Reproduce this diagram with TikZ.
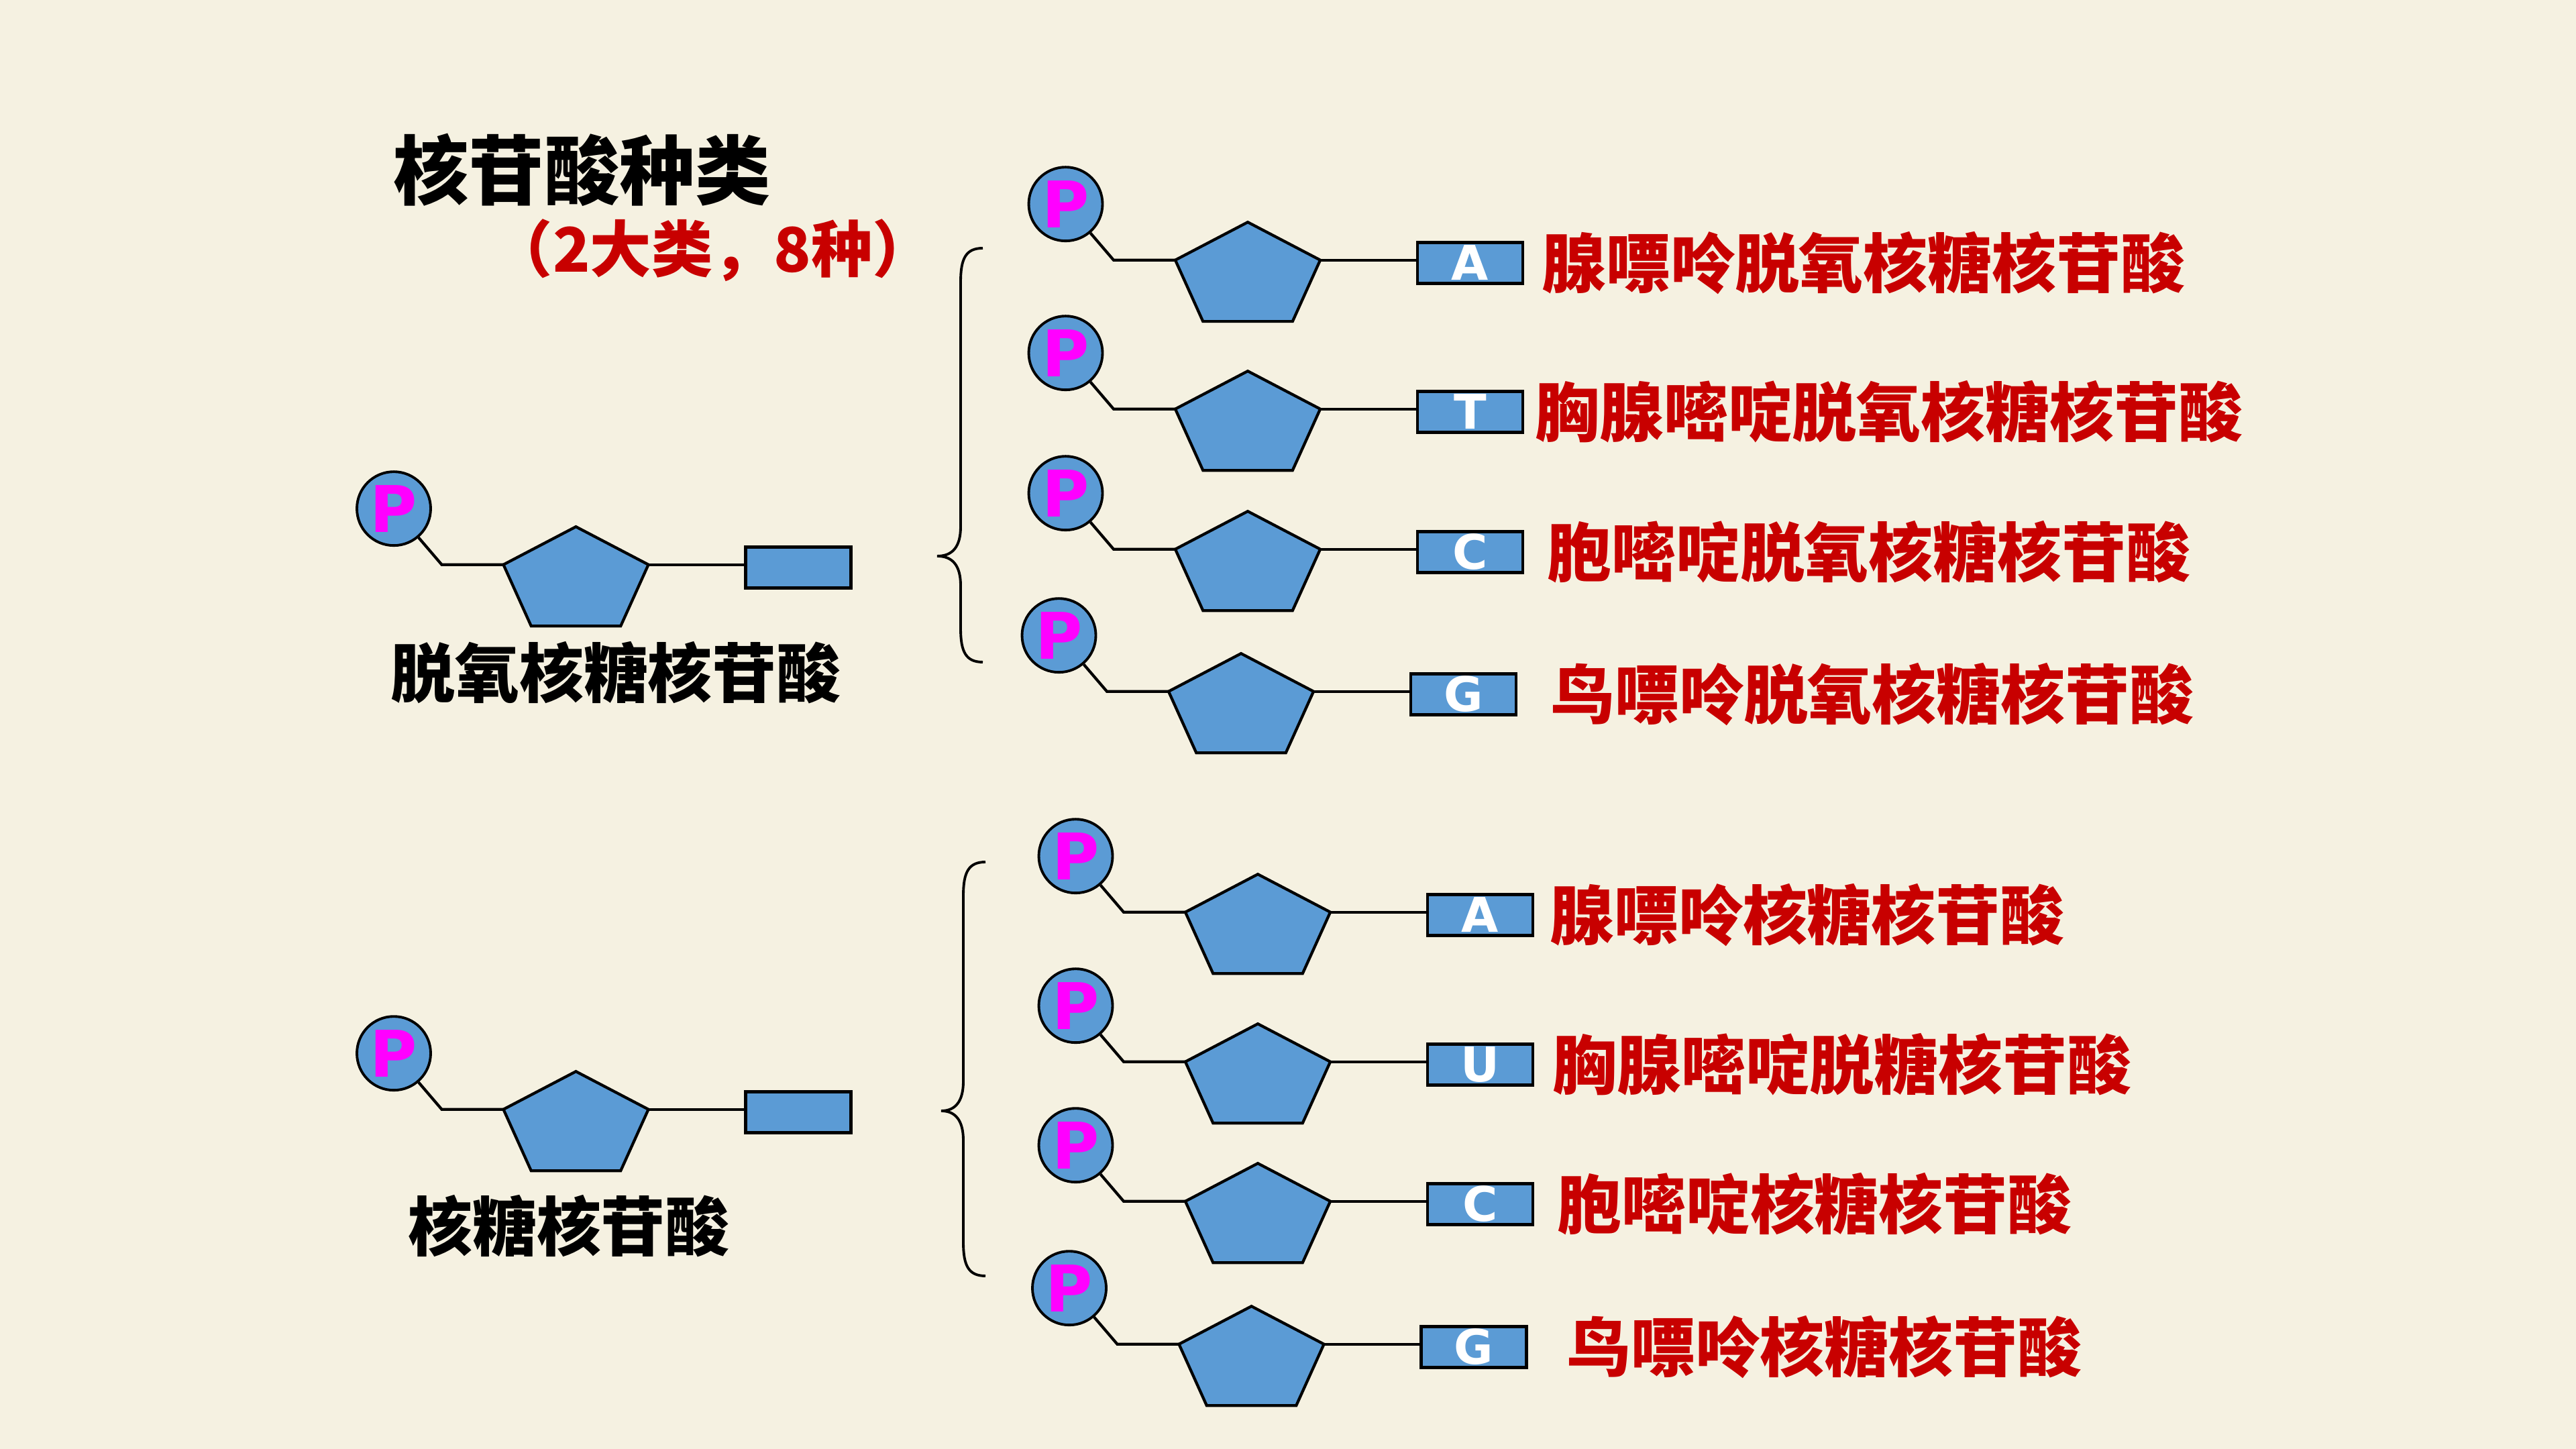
\documentclass[tikz,border=0pt]{standalone}
\usepackage{fontspec}
\newfontfamily\cjk{Noto Sans CJK SC}
\newfontfamily\letterfont{DejaVu Sans}
\usetikzlibrary{calc,positioning,shapes.geometric}
\definecolor{paper}{RGB}{245,241,225}
\definecolor{nblue}{RGB}{91,155,213}
\definecolor{nred}{RGB}{200,0,0}
\definecolor{pmag}{RGB}{255,0,255}
\tikzset{
	sugar/.style={regular polygon, regular polygon sides=5, minimum size=2.272cm, inner sep=0, outer sep=0, draw, fill=nblue, line width=1.2pt, yscale=0.72},
	phos/.style={circle, minimum size=1.1cm, inner sep=0, draw, fill=nblue, line width=1.1pt, text=pmag, font=\letterfont\bfseries\fontsize{27.3pt}{28pt}\selectfont},
	basebox/.style={rectangle, minimum width=1.57cm, minimum height=0.61cm, inner sep=0, draw, fill=nblue, line width=1.4pt, text=white, font=\letterfont\bfseries\fontsize{20.3pt}{21pt}\selectfont},
	bond/.style={line width=1.2pt},
	curly/.style={line width=1.1pt},
	lab/.style={inner sep=0, text=nred, font=\cjk\bfseries\fontsize{27.3pt}{30pt}\selectfont}
}
\def\nucl(#1)(#2)#3{%
	\node[sugar] (#1s) at (#2) {};
	\node[phos] (#1p) at ($(#1s)+(-2.715,1.088)$) {P};
	\node[basebox] (#1b) at ($(#1s)+(3.315,0.213)$) {#3};
	\coordinate (#1k) at ($(#1s.corner 2)+(-0.92,0)$);
	\draw[bond] (#1p) -- (#1k) -- (#1s.corner 2);
	\draw[bond] (#1s.corner 5) -- (#1s.corner 5 -| #1b.west);
}

\begin{document}
\begin{tikzpicture}
			%%%%% START %%%%%
			
			\fill[paper] (0, 0) rectangle (38.4, 21.6);
			\useasboundingbox (0, 0) rectangle (38.4, 21.6);
			
			\node[lab, text=black, font=\cjk\bfseries\fontsize{32pt}{34pt}\selectfont] (ttl) at (8.675, 19.07) {核苷酸种类};
			\node[lab, font=\cjk\bfseries\fontsize{26pt}{28pt}\selectfont] (sub) at (10.625, 17.87) {（2大类，8种）};
			
			\nucl(l1)(8.585, 12.93){}
			\node[lab, text=black] (l1t) at (9.18, 11.57) {脱氧核糖核苷酸};
			
			\nucl(l2)(8.585, 4.81){}
			\node[lab, text=black] (l2t) at (8.48, 3.32) {核糖核苷酸};
			
			\draw[curly] (14.65, 17.90) .. controls (14.40, 17.90) and (14.32, 17.75) .. (14.32, 17.40) -- (14.32, 13.75)
				.. controls (14.32, 13.45) and (14.20, 13.31) .. (13.97, 13.31)
				.. controls (14.20, 13.31) and (14.32, 13.17) .. (14.32, 12.87) -- (14.32, 12.23)
				.. controls (14.32, 11.88) and (14.40, 11.73) .. (14.65, 11.73);
			
			\nucl(r1)(18.60, 17.47){A}
			\node[lab, right=0.25cm of r1b] (r1t) {腺嘌呤脱氧核糖核苷酸};
			\nucl(r2)(18.60, 15.25){T}
			\node[lab, right=0.15cm of r2b] (r2t) {胸腺嘧啶脱氧核糖核苷酸};
			\nucl(r3)(18.60, 13.16){C}
			\node[lab, right=0.33cm of r3b] (r3t) {胞嘧啶脱氧核糖核苷酸};
			\nucl(r4)(18.50, 11.04){G}
			\node[lab, right=0.48cm of r4b] (r4t) {鸟嘌呤脱氧核糖核苷酸};
			
			\draw[curly] (14.69, 8.75) .. controls (14.44, 8.75) and (14.36, 8.60) .. (14.36, 8.25) -- (14.36, 5.48)
				.. controls (14.36, 5.18) and (14.24, 5.04) .. (14.03, 5.04)
				.. controls (14.24, 5.04) and (14.36, 4.90) .. (14.36, 4.60) -- (14.36, 3.08)
				.. controls (14.36, 2.73) and (14.44, 2.58) .. (14.69, 2.58);
			
			\nucl(r5)(18.75, 7.75){A}
			\node[lab, right=0.22cm of r5b] (r5t) {腺嘌呤核糖核苷酸};
			\nucl(r6)(18.75, 5.52){U}
			\node[lab, right=0.26cm of r6b] (r6t) {胸腺嘧啶脱糖核苷酸};
			\nucl(r7)(18.75, 3.44){C}
			\node[lab, right=0.33cm of r7b] (r7t) {胞嘧啶核糖核苷酸};
			\nucl(r8)(18.655, 1.31){G}
			\node[lab, right=0.57cm of r8b] (r8t) {鸟嘌呤核糖核苷酸};
			
			%%%%% END %%%%%
		\end{tikzpicture}
\end{document}
